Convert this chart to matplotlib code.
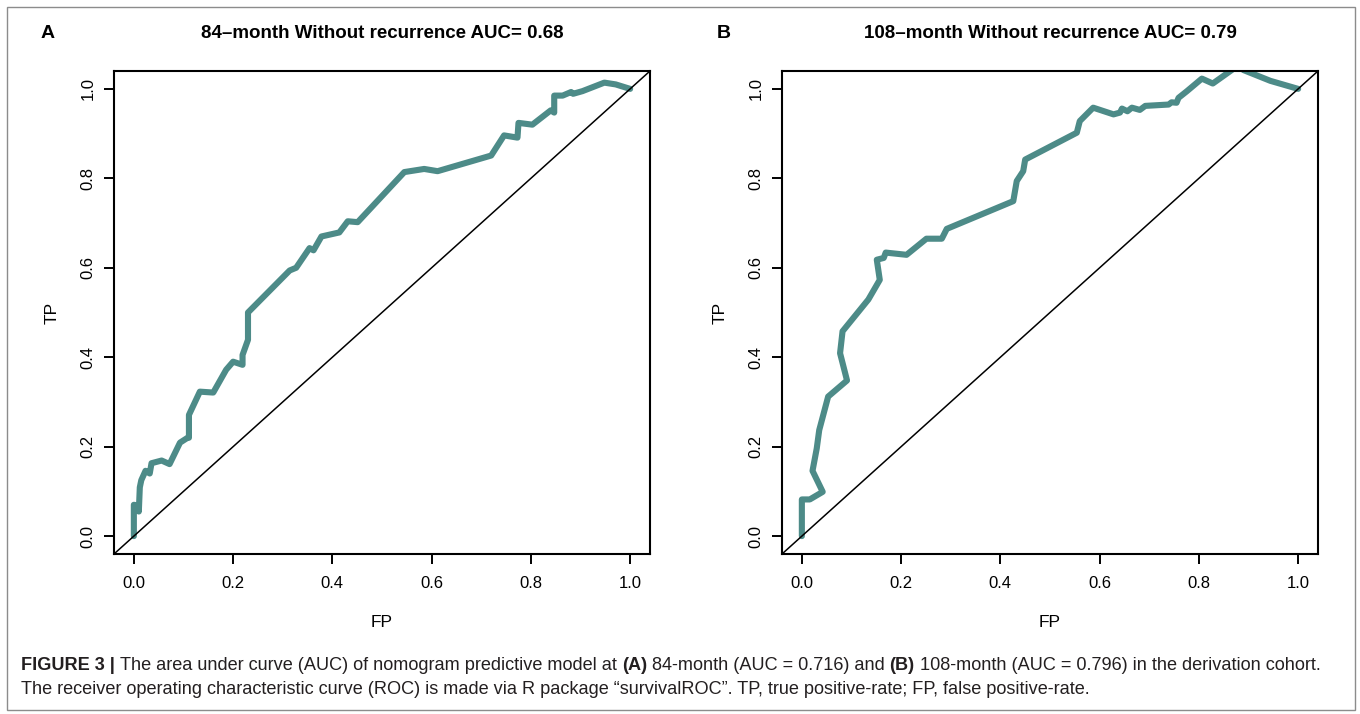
import matplotlib
matplotlib.use("Agg")
import matplotlib.pyplot as plt
from matplotlib.patches import Rectangle

plt.rcParams['font.family'] = ['Liberation Sans', 'DejaVu Sans']

# --- data ---
fp_a = [0.0, 0.0, 0.01, 0.01, 0.012, 0.015, 0.0235, 0.032, 0.0356, 0.056, 0.072,
        0.093, 0.107, 0.111, 0.111, 0.133, 0.16, 0.186, 0.2, 0.219, 0.219, 0.23,
        0.23, 0.314, 0.327, 0.354, 0.362, 0.378, 0.414, 0.431, 0.451, 0.545,
        0.585, 0.612, 0.72, 0.746, 0.773, 0.775, 0.803, 0.84, 0.847, 0.847,
        0.864, 0.881, 0.885, 0.904, 0.948, 0.971, 1.0]
tp_a = [0.0, 0.07, 0.068, 0.055, 0.109, 0.125, 0.146, 0.14, 0.163, 0.169, 0.161,
        0.209, 0.219, 0.22, 0.271, 0.323, 0.321, 0.372, 0.39, 0.383, 0.405, 0.439,
        0.5, 0.594, 0.6, 0.644, 0.639, 0.67, 0.679, 0.704, 0.702, 0.814,
        0.821, 0.816, 0.851, 0.896, 0.891, 0.924, 0.92, 0.952, 0.947, 0.985,
        0.985, 0.993, 0.989, 0.995, 1.014, 1.01, 1.0]

fp_b = [0.0, 0.0, 0.016, 0.042, 0.0215, 0.03, 0.035, 0.053, 0.091, 0.077, 0.082,
        0.134, 0.157, 0.151, 0.165, 0.169, 0.177, 0.211, 0.251, 0.282, 0.292,
        0.426, 0.433, 0.446, 0.45, 0.554, 0.56, 0.587, 0.628, 0.641, 0.645,
        0.656, 0.665, 0.681, 0.692, 0.739, 0.745, 0.755, 0.759, 0.776, 0.806,
        0.828, 0.866, 0.878, 0.89, 0.944, 1.0]
tp_b = [0.0, 0.082, 0.082, 0.099, 0.146, 0.196, 0.237, 0.312, 0.348, 0.409, 0.458,
        0.529, 0.573, 0.618, 0.622, 0.634, 0.633, 0.629, 0.665, 0.665, 0.687,
        0.749, 0.794, 0.816, 0.842, 0.902, 0.928, 0.958, 0.943, 0.947, 0.956,
        0.95, 0.958, 0.953, 0.962, 0.965, 0.97, 0.969, 0.98, 0.995, 1.023,
        1.012, 1.042, 1.055, 1.042, 1.018, 1.0]

titles = ["84\u2013month Without recurrence AUC= 0.68",
          "108\u2013month Without recurrence AUC= 0.79"]
letters = ["A", "B"]
ticks = [0.0, 0.2, 0.4, 0.6, 0.8, 1.0]
tick_labels = ["0.0", "0.2", "0.4", "0.6", "0.8", "1.0"]

line1 = [("FIGURE 3 |", "bold"),
         ("The area under curve (AUC) of nomogram predictive model at", "normal"),
         ("(A)", "bold"),
         ("84-month (AUC = 0.716) and", "normal"),
         ("(B)", "bold"),
         ("108-month (AUC = 0.796) in the derivation cohort.", "normal")]
line2 = [("The receiver operating characteristic curve (ROC) is made via R package "
          "\u201csurvivalROC\u201d. TP, true positive-rate; FP, false positive-rate.", "normal")]

W, H = 1360, 714
teal = "#4d8b88"
fig = plt.figure(figsize=(W / 100, H / 100), dpi=100)


def px(x, y):
    return x / W, 1 - y / H


boxes = [(114, 650), (782, 1318)]
curves = [(fp_a, tp_a), (fp_b, tp_b)]
top, bottom = 71, 554

for i, (l, r) in enumerate(boxes):
    ax = fig.add_axes([l / W, 1 - bottom / H, (r - l) / W, (bottom - top) / H])
    fp, tp = curves[i]
    ax.plot(fp, tp, color=teal, lw=4.4, solid_capstyle="round", solid_joinstyle="round")
    ax.plot([-0.04, 1.04], [-0.04, 1.04], color="black", lw=1.1)
    ax.set_xlim(-0.04, 1.04)
    ax.set_ylim(-0.04, 1.04)
    ax.set_xticks(ticks)
    ax.set_xticklabels(tick_labels)
    ax.set_yticks(ticks)
    ax.set_yticklabels(tick_labels, rotation=90, va="center")
    ax.tick_params(length=7.2, width=1.4, labelsize=12)
    ax.tick_params(axis="x", pad=9)
    ax.tick_params(axis="y", pad=6)
    for s in ax.spines.values():
        s.set_linewidth(1.5)
    ax.set_xlabel("FP", fontsize=12.5, labelpad=17)
    ax.set_ylabel("TP", fontsize=12.5, labelpad=15)
    cx = (l + r) / 2
    fig.text(*px(cx, 33), titles[i], ha="center", va="center",
             fontsize=13.5, fontweight="bold")
    fig.text(*px(48 + i * 676, 33), letters[i], ha="center", va="center",
             fontsize=14, fontweight="bold")

# outer frame
fig.patches.append(Rectangle(px(7, 710), (1355 - 7) / W, (710 - 7) / H,
                             transform=fig.transFigure, fill=False,
                             edgecolor="#8c8c8c", lw=1.0))

# caption with mixed bold / regular pieces
cap_fonts = ["Liberation Sans Narrow", "Liberation Sans", "DejaVu Sans"]
renderer = fig.canvas.get_renderer()


def width_of(s, size, weight):
    t = fig.text(0, 0, s, fontsize=size, fontweight=weight, family=cap_fonts)
    w = t.get_window_extent(renderer).width
    t.remove()
    return w


def draw_line(x0, y, pieces, size):
    space = width_of("a a", size, "normal") - width_of("aa", size, "normal")
    x = x0
    for s, wt in pieces:
        fig.text(*px(x, y), s, fontsize=size, fontweight=wt, family=cap_fonts,
                 ha="left", va="center", color="#231f20")
        x += width_of(s, size, wt) + space
    return x - space - x0


base = 12.0
total = sum(width_of(s, base, w) for s, w in line1)
total += (len(line1) - 1) * (width_of("a a", base, "normal") - width_of("aa", base, "normal"))
cap_size = base * (1327 - 21) / total

draw_line(21, 665, line1, cap_size)
draw_line(21, 690, line2, cap_size)

fig.savefig("out.png", dpi=100)
